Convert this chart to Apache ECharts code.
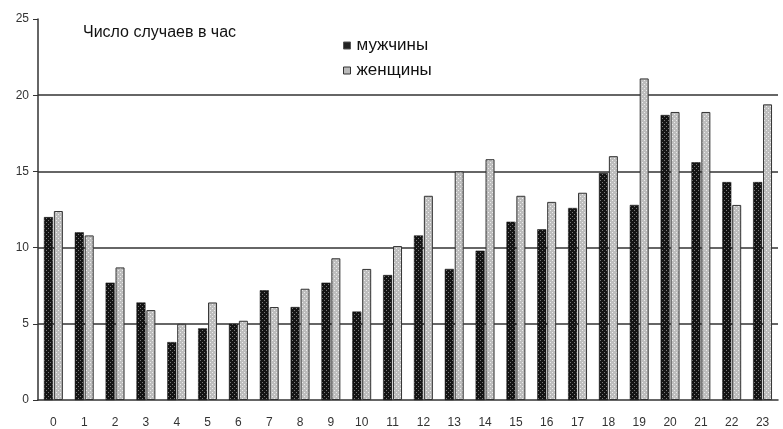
<!DOCTYPE html>
<html>
<head>
<meta charset="utf-8">
<script src="https://cdn.jsdelivr.net/npm/echarts@6/dist/echarts.min.js"></script>
<style>
  html, body { margin: 0; padding: 0; background: #fff; }
  #chart { width: 783px; height: 429px; }
</style>
</head>
<body>
<div id="chart"></div>
<script>
const hours = ['0','1','2','3','4','5','6','7','8','9','10','11','12','13','14','15','16','17','18','19','20','21','22','23']
const men = [12, 11, 7.7, 6.4, 3.8, 4.7, 5, 7.2, 6.1, 7.7, 5.8, 8.2, 10.8, 8.6, 9.8, 11.7, 11.2, 12.6, 14.9, 12.8, 18.7, 15.6, 14.3, 14.3]
const women = [12.4, 10.8, 8.7, 5.9, 5, 6.4, 5.2, 6.1, 7.3, 9.3, 8.6, 10.1, 13.4, 15, 15.8, 13.4, 13, 13.6, 16, 21.1, 18.9, 18.9, 12.8, 19.4]
const yTicks = [0, 5, 10, 15, 20, 25]

// dotted fills like the old print
function makePattern(bg, dot) {
  let c = document.createElement('canvas')
  c.width = 4
  c.height = 4
  let ctx = c.getContext('2d')
  ctx.fillStyle = bg
  ctx.fillRect(0, 0, 4, 4)
  ctx.fillStyle = dot
  ctx.fillRect(0, 0, 1, 1)
  ctx.fillRect(2, 2, 1, 1)
  return { image: c, repeat: 'repeat' }
}
const darkFill = makePattern('#141414', '#7a7a7a')
const lightFill = makePattern('#bdbdbd', '#ededed')

const narrow = '"Liberation Sans Narrow", "Liberation Sans", Arial, sans-serif'
const plain = 'Arial, "Liberation Sans", sans-serif'

let chart = echarts.init(document.getElementById('chart'))
let option = {
  animation: false,
  backgroundColor: '#fff',
  grid: { left: 38, right: 5, top: 19, bottom: 27 },
  title: {
    text: 'Число случаев в час',
    left: 78,
    top: 20,
    textStyle: { fontFamily: narrow, fontWeight: 'normal', fontSize: 16, color: '#111' }
  },
  legend: {
    orient: 'vertical',
    left: 338,
    top: 32,
    itemWidth: 7,
    itemHeight: 7,
    itemGap: 8,
    icon: 'rect',
    textStyle: { fontFamily: narrow, fontSize: 17, color: '#111', padding: [0, 0, 0, 1] },
    data: [
      { name: 'мужчины', itemStyle: { color: '#222', borderColor: '#555', borderWidth: 1 } },
      { name: 'женщины', itemStyle: { color: '#bbb', borderColor: '#333', borderWidth: 1 } }
    ]
  },
  xAxis: {
    type: 'category',
    data: hours,
    axisLine: { lineStyle: { color: '#333', width: 1.5 } },
    axisTick: { alignWithLabel: false, length: 4, lineStyle: { color: '#333' } },
    axisLabel: { fontFamily: plain, fontSize: 12, color: '#333', margin: 17 }
  },
  yAxis: {
    type: 'value',
    min: 0,
    max: 25,
    interval: 5,
    axisLine: { show: true, lineStyle: { color: '#333', width: 1.5 } },
    axisTick: { show: true, length: 5, lineStyle: { color: '#333' } },
    axisLabel: {
      fontFamily: plain, fontSize: 12, color: '#333', margin: 9,
      formatter: v => yTicks.indexOf(v) >= 0 ? String(v) : ''
    },
    splitLine: {
      show: true,
      lineStyle: { color: '#333', width: 1.5 },
      showMinLine: false,
      showMaxLine: false
    }
  },
  series: [
    {
      name: 'мужчины',
      type: 'bar',
      data: men,
      barWidth: 9,
      barGap: '10%',
      itemStyle: { color: darkFill, borderColor: '#111', borderWidth: 0.5 }
    },
    {
      name: 'женщины',
      type: 'bar',
      data: women,
      barWidth: 9,
      itemStyle: { color: lightFill, borderColor: '#333', borderWidth: 1 }
    }
  ]
}
chart.setOption(option)
</script>
</body>
</html>
